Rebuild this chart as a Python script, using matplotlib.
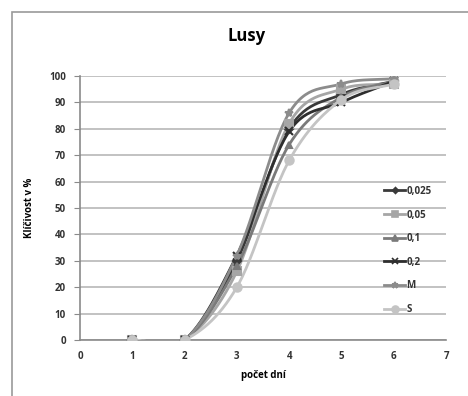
import numpy as np
import matplotlib.pyplot as plt
from matplotlib.patches import Rectangle

days = [1, 2, 3, 4, 5, 6]
series_names = ["0,025", "0,05", "0,1", "0,2", "M", "S"]
v_0025 = [0, 0, 30, 80, 93, 98]
v_005 = [0, 0, 26, 82, 95, 97]
v_01 = [0, 0, 28, 74, 92, 98]
v_02 = [0, 0, 32, 79, 90, 98]
v_m = [0, 0, 32, 86, 97, 99]
v_s = [0, 0, 20, 68, 91, 97]

styles = [
    ("#3a3a3a", "D", 4),
    ("#a6a6a6", "s", 6),
    ("#7a7a7a", "^", 5),
    ("#2e2e2e", "x", 6),
    ("#8c8c8c", "*", 6),
    ("#c4c4c4", "o", 6),
]


def smooth(x, y, n=30):
    # Catmull-Rom style curve through the points, like Excel's smoothed lines
    x = np.asarray(x, float)
    y = np.asarray(y, float)
    px = np.concatenate([[2 * x[0] - x[1]], x, [2 * x[-1] - x[-2]]])
    py = np.concatenate([[2 * y[0] - y[1]], y, [2 * y[-1] - y[-2]]])
    xs, ys = [], []
    t = np.linspace(0, 1, n)
    for i in range(1, len(px) - 2):
        for arr, out in ((px, xs), (py, ys)):
            p0, p1, p2, p3 = arr[i - 1], arr[i], arr[i + 1], arr[i + 2]
            seg = 0.5 * ((2 * p1) + (-p0 + p2) * t
                         + (2 * p0 - 5 * p1 + 4 * p2 - p3) * t ** 2
                         + (-p0 + 3 * p1 - 3 * p2 + p3) * t ** 3)
            out.extend(seg)
    return np.array(xs), np.array(ys)


plt.rcParams["font.family"] = ["Open Sans", "DejaVu Sans"]

fig = plt.figure(figsize=(4.68, 3.96), dpi=100)
fig.patches.append(Rectangle((12 / 468, -0.1), 1.2, 1 - 12 / 396 + 0.1,
                             transform=fig.transFigure, fill=False,
                             edgecolor="#9a9a9a", linewidth=1.2))

ax = fig.add_axes([80 / 468, 1 - 340 / 396, 366 / 468, 264 / 396])

all_values = [v_0025, v_005, v_01, v_02, v_m, v_s]
for name, vals, (col, mk, ms) in zip(series_names, all_values, styles):
    sx, sy = smooth(days, vals)
    ax.plot(sx, sy, color=col, linewidth=2.0, zorder=3)
    ax.plot(days, vals, linestyle="none", marker=mk, markersize=ms,
            color=col, markeredgewidth=1.5, zorder=4)
    ax.plot([], [], color=col, linewidth=2, marker=mk, markersize=ms - 1,
            markeredgewidth=1.2, label=name)

ax.set_xlim(0, 7)
ax.set_ylim(0, 100)
ax.set_xticks(range(0, 8))
ax.set_yticks(range(0, 101, 10))
ax.grid(axis="y", color="#bdbdbd", linewidth=1.3)
ax.set_axisbelow(True)
for s in ["top", "right"]:
    ax.spines[s].set_visible(False)
for s in ["left", "bottom"]:
    ax.spines[s].set_color("#8a8a8a")
    ax.spines[s].set_linewidth(1.2)
ax.tick_params(axis="y", length=4, color="#8a8a8a", labelsize=7, pad=6)
ax.tick_params(axis="x", length=0, labelsize=7, pad=8)
for lab in ax.get_xticklabels() + ax.get_yticklabels():
    lab.set_fontweight("bold")
    lab.set_color("#333333")

ax.set_xlabel("počet dní", fontsize=7, fontweight="bold", labelpad=6)
ax.set_ylabel("Klíčivost v %", fontsize=7, fontweight="bold", labelpad=10)
fig.text(247 / 468, 1 - 36 / 396, "Lusy", ha="center",
         va="center", fontsize=12, fontweight="bold")

leg = ax.legend(loc="upper left", bbox_to_anchor=(300 / 366, 158 / 264),
                frameon=False, fontsize=7, handlelength=2.2,
                handletextpad=0.1, labelspacing=1.3, borderaxespad=0)
for txt in leg.get_texts():
    txt.set_fontweight("bold")
    txt.set_color("#333333")

fig.savefig("out.png", dpi=100)
